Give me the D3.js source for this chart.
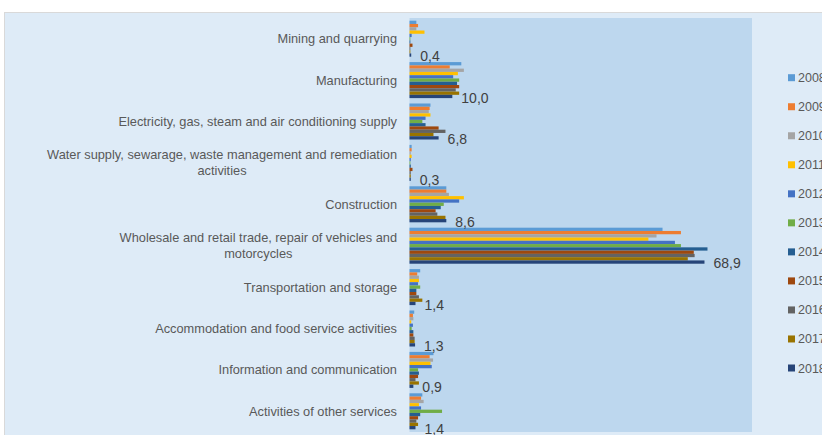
<!DOCTYPE html>
<html>
<head>
<meta charset="utf-8">
<script src="https://cdn.jsdelivr.net/npm/d3@7"></script>
<style>
  html, body { margin: 0; padding: 0; background: #ffffff; }
  svg { display: block; font-family: "Liberation Sans", Arial, sans-serif; }
</style>
</head>
<body>
<svg id="chart" width="822" height="435"></svg>
<script>
// Sectors, top to bottom; "\n" marks a manual line break in the label
const categories = [
  "Mining and quarrying",
  "Manufacturing",
  "Electricity, gas, steam and air conditioning supply",
  "Water supply, sewarage, waste management and remediation\nactivities",
  "Construction",
  "Wholesale and retail trade, repair of vehicles and\nmotorcycles",
  "Transportation and storage",
  "Accommodation and food service activities",
  "Information and communication",
  "Activities of other services"
];

const years = ["2008", "2009", "2010", "2011", "2012", "2013", "2014", "2015", "2016", "2017", "2018"];

const seriesColors = ["#5B9BD5", "#ED7D31", "#A5A5A5", "#FFC000", "#4472C4", "#70AD47",
                      "#255E91", "#9E480E", "#636363", "#997300", "#264478"];

// Share per sector (%), one array per year, in category order
const values2008 = [1.6, 12.1, 4.9, 0.5, 8.6, 59.1, 2.5, 1.1, 5.6, 3.0];
const values2009 = [2.0, 9.4, 4.7, 0.5, 8.6, 63.4, 1.8, 0.8, 4.7, 2.7];
const values2010 = [1.6, 12.7, 4.5, 0.3, 9.2, 57.7, 2.2, 0.9, 5.5, 3.3];
const values2011 = [3.5, 11.3, 4.9, 0.5, 12.7, 55.8, 2.2, 0.4, 4.9, 2.2];
const values2012 = [0.5, 10.2, 3.75, 0.3, 11.6, 62.0, 2.0, 0.8, 5.2, 2.7];
const values2013 = [0.2, 11.6, 3.0, 0.2, 8.0, 63.4, 2.5, 0.5, 2.0, 7.6];
const values2014 = [0.2, 11.1, 3.75, 0.3, 7.3, 69.6, 1.6, 0.9, 2.2, 2.5];
const values2015 = [0.7, 11.6, 6.8, 0.7, 6.1, 66.4, 1.6, 0.9, 2.0, 2.0];
const values2016 = [0.2, 10.8, 8.4, 0.3, 6.5, 66.6, 2.2, 1.2, 1.4, 1.6];
const values2017 = [0.2, 11.6, 5.6, 0.3, 8.4, 65.0, 3.0, 1.2, 2.2, 2.0];
const values2018 = [0.4, 10.0, 6.8, 0.3, 8.6, 68.9, 1.4, 1.3, 0.9, 1.4];

const seriesValues = [values2008, values2009, values2010, values2011, values2012, values2013,
                      values2014, values2015, values2016, values2017, values2018];

const xMax = 80;

const svg = d3.select("#chart");

// Chart panel background
svg.append("rect")
  .attr("x", 4.5).attr("y", 12.5)
  .attr("width", 830).attr("height", 430)
  .attr("fill", "#DEEBF7")
  .attr("stroke", "#D9D9D9")
  .attr("stroke-width", 1);

const plot = { left: 409.5, right: 752, top: 18, bottom: 432 };

// Plot area
svg.append("rect")
  .attr("x", plot.left).attr("y", plot.top)
  .attr("width", plot.right - plot.left).attr("height", plot.bottom - plot.top)
  .attr("fill", "#BDD7EE");

const x = d3.scaleLinear().domain([0, xMax]).range([plot.left, plot.right]);

const y0 = d3.scaleBand()
  .domain(categories)
  .range([plot.top, plot.bottom])
  .paddingInner(0.13)
  .paddingOuter(0.065);

const y1 = d3.scaleBand()
  .domain(years)
  .range([0, y0.bandwidth()]);

// Bars, grouped by sector
const groups = svg.append("g").selectAll("g")
  .data(categories)
  .join("g")
  .attr("transform", c => `translate(0,${y0(c)})`);

groups.selectAll("rect")
  .data((c, ci) => years.map((yr, si) => ({ year: yr, si, value: seriesValues[si][ci] })))
  .join("rect")
  .attr("x", x(0))
  .attr("y", d => y1(d.year))
  .attr("width", d => x(d.value) - x(0))
  .attr("height", y1.bandwidth())
  .attr("fill", d => seriesColors[d.si]);

// Data labels on the latest year
const fmt = v => d3.format(".1f")(v).replace(".", ",");
const last = years.length - 1;
svg.append("g").selectAll("text")
  .data(categories)
  .join("text")
  .attr("x", (c, i) => x(seriesValues[last][i]) + 9)
  .attr("y", c => y0(c) + y1(years[last]) + y1.bandwidth() / 2 + 1)
  .attr("dy", "0.36em")
  .attr("font-size", 14)
  .attr("fill", "#404040")
  .text((c, i) => fmt(seriesValues[last][i]));

// Category labels: right-aligned block, wrapped lines centred within it
const labelRight = 397;
const lineH = 16;
const catLabels = svg.append("g");
categories.forEach(c => {
  const lines = c.split("\n");
  const cy = y0(c) + y0.bandwidth() / 2;
  const t = catLabels.append("text")
    .attr("font-size", 12.8)
    .attr("fill", "#595959")
    .attr("text-anchor", "middle");
  lines.forEach((ln, i) => {
    t.append("tspan")
      .attr("y", cy + (i - (lines.length - 1) / 2) * lineH)
      .attr("dy", "0.35em")
      .text(ln);
  });
  const widths = t.selectAll("tspan").nodes().map(n => n.getComputedTextLength());
  const w = d3.max(widths);
  t.selectAll("tspan").attr("x", labelRight - w / 2);
});

// Legend
const legendTop = 77.7, legendStep = 29.03;
const legend = svg.append("g").selectAll("g")
  .data(years)
  .join("g")
  .attr("transform", (d, i) => `translate(788,${legendTop + i * legendStep})`);
legend.append("rect")
  .attr("x", 0).attr("y", -3.5)
  .attr("width", 7).attr("height", 7)
  .attr("fill", (d, i) => seriesColors[i]);
legend.append("text")
  .attr("x", 10).attr("dy", "0.36em")
  .attr("font-size", 12.5)
  .attr("fill", "#595959")
  .text(d => d);
</script>
</body>
</html>
